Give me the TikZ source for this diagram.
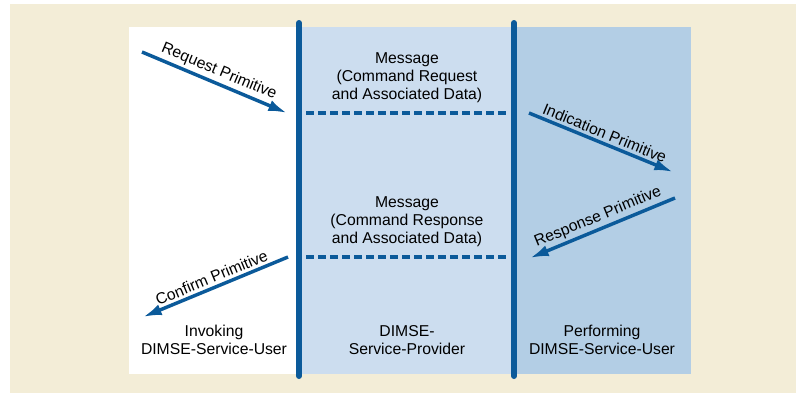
\documentclass[tikz,border=0pt]{standalone}
\usepackage{fontspec}
\setmainfont{Liberation Sans}
\usetikzlibrary{arrows.meta}
\definecolor{bgbeige}{HTML}{F3EDD7}
\definecolor{provblue}{HTML}{CCDDEF}
\definecolor{perfblue}{HTML}{B3CEE5}
\definecolor{lineblue}{HTML}{0B5A9A}
\begin{document}
\begin{tikzpicture}[x=0.75pt,y=-0.75pt,
  font=\fontsize{11.8}{13.5}\selectfont,
  barrier/.style={lineblue,line width=4.5pt,line cap=round},
  prim/.style={lineblue,line width=2.6pt,-{Latex[length=14pt,width=8.5pt]}},
  msgline/.style={lineblue,line width=2.4pt,dash pattern=on 6pt off 3pt},
  primlabel/.style={midway,above,sloped,inner sep=2pt,text=black},
  lbl/.style={align=center,inner sep=0pt}]
  \useasboundingbox (0,0) rectangle (796,393);
  % panels
  \fill[bgbeige] (10,4) rectangle (796,393);
  \fill[white] (129,27) rectangle (299,374);
  \fill[provblue] (299,27) rectangle (514,374);
  \fill[perfblue] (514,27) rectangle (691,374);
  % service boundaries
  \coordinate (inv top) at (299,23);
  \coordinate (inv bot) at (299,376);
  \coordinate (perf top) at (514,23);
  \coordinate (perf bot) at (514,376);
  \draw[barrier] (inv top) -- (inv bot);
  \draw[barrier] (perf top) -- (perf bot);
  % messages
  \node[lbl] (req msg) at (407,78) {Message\\(Command Request\\and Associated Data)};
  \node[lbl] (rsp msg) at (407,222) {Message\\(Command Response\\and Associated Data)};
  \coordinate (req l) at (306,113);
  \coordinate (req r) at (508,113);
  \coordinate (rsp l) at (306,257);
  \coordinate (rsp r) at (508,257);
  \draw[msgline] (req l) -- (req r);
  \draw[msgline] (rsp l) -- (rsp r);
  % primitives
  \coordinate (request a) at (142,52);
  \coordinate (request b) at (287,113);
  \coordinate (indic a) at (529,113);
  \coordinate (indic b) at (673,172);
  \coordinate (resp a) at (675,198);
  \coordinate (resp b) at (530,258);
  \coordinate (conf a) at (288,257);
  \coordinate (conf b) at (143,317);
  \draw[prim] (request a) -- node[primlabel] {Request Primitive} (request b);
  \draw[prim] (indic a) -- node[primlabel] {Indication Primitive} (indic b);
  \draw[prim] (resp a) -- node[primlabel] {Response Primitive} (resp b);
  \draw[prim] (conf a) -- node[primlabel] {Confirm Primitive} (conf b);
  % users and provider
  \node[lbl] (invoking) at (214,340) {Invoking\\DIMSE-Service-User};
  \node[lbl] (provider) at (407,340) {DIMSE-\\Service-Provider};
  \node[lbl] (performing) at (602,340) {Performing\\DIMSE-Service-User};
\end{tikzpicture}
\end{document}
